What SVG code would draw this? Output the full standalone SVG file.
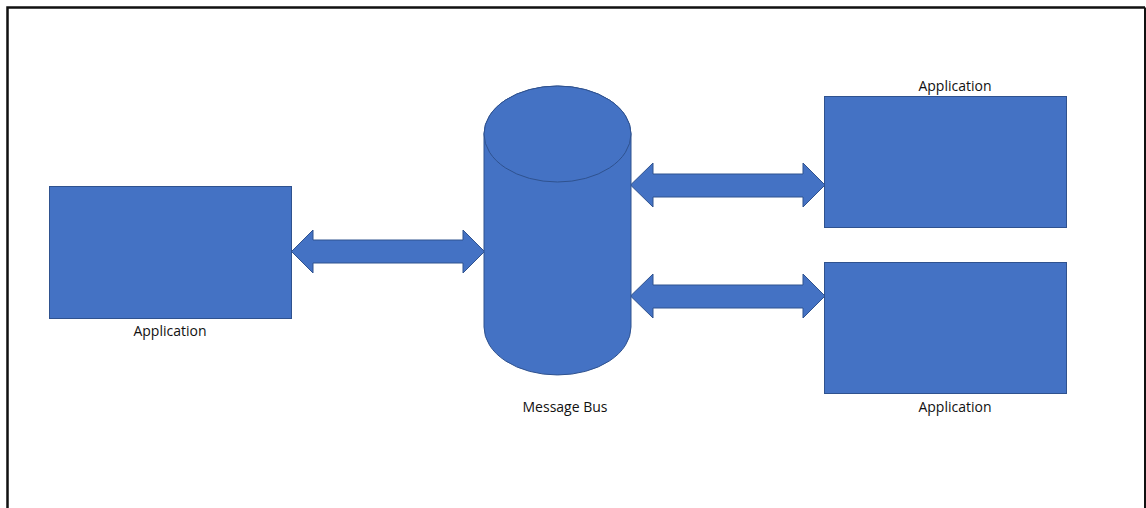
<svg xmlns="http://www.w3.org/2000/svg" width="1146" height="508" viewBox="0 0 1146 508">
<style>
.shape{fill:#4472C4;stroke:#2F528F;stroke-width:1}
.lbl{font-family:"Open Sans","Liberation Sans",sans-serif;font-size:14px;fill:#111;text-anchor:middle}
</style>
<rect width="1146" height="508" fill="#fff"/>
<path d="M7.5,520 V7.5 H1145" fill="none" stroke="#111" stroke-width="2.5"/>
<path d="M1145,7.5 V520" fill="none" stroke="#111" stroke-width="2"/>
<g id="connectors">
<path class="shape" d="M291.5,251.5 L313,230 L313,240 L463,240 L463,230 L484.5,251.5 L463,273 L463,263 L313,263 L313,273 Z"/>
<path class="shape" d="M630.5,185 L653,163 L653,174 L803,174 L803,163 L825,185 L803,207 L803,197 L653,197 L653,207 Z"/>
<path class="shape" d="M630.5,296 L653,274 L653,285 L803,285 L803,274 L825,296 L803,318 L803,308 L653,308 L653,318 Z"/>
</g>
<g id="app-left">
<rect class="shape" x="49.5" y="186.5" width="242" height="132"/>
<text class="lbl" x="170" y="336">Application</text>
</g>
<g id="bus">
<path class="shape" d="M484,134 A73.5,48 0 0 1 631,134 L631,327 A73.5,48 0 0 1 484,327 Z"/>
<ellipse class="shape" cx="557.5" cy="134" rx="73.5" ry="48"/>
<text class="lbl" x="565" y="412">Message Bus</text>
</g>
<g id="app-top-right">
<rect class="shape" x="824.5" y="96.5" width="242" height="131"/>
<text class="lbl" x="955" y="91">Application</text>
</g>
<g id="app-bottom-right">
<rect class="shape" x="824.5" y="262.5" width="242" height="131"/>
<text class="lbl" x="955" y="412">Application</text>
</g>
</svg>
